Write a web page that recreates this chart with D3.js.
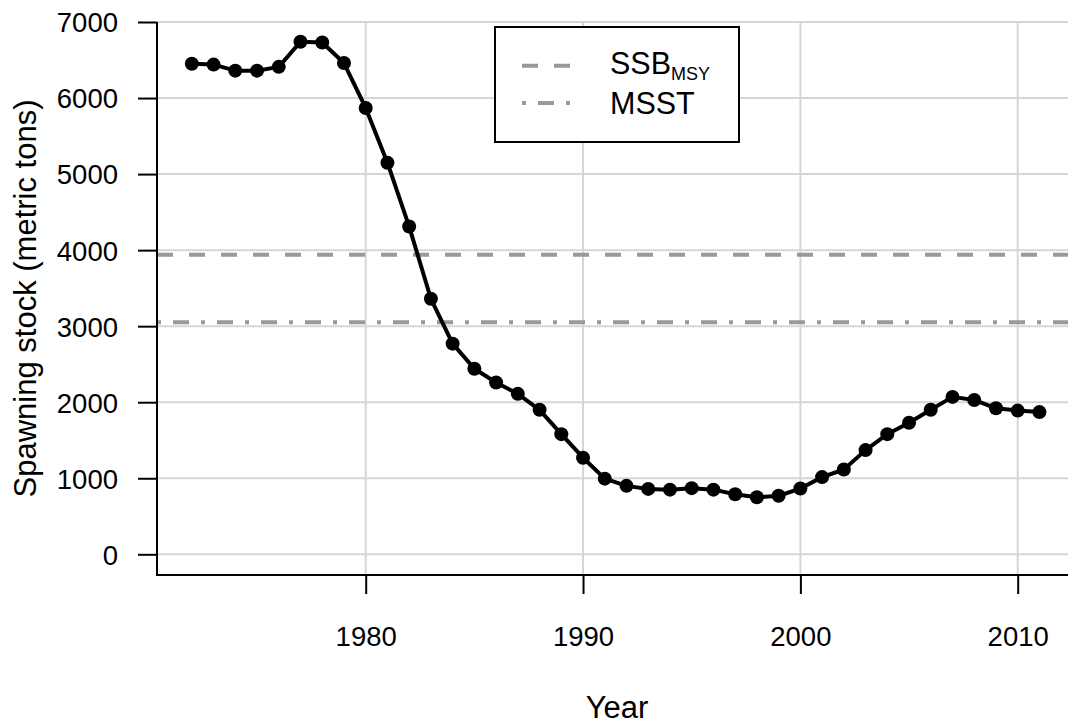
<!DOCTYPE html>
<html>
<head>
<meta charset="utf-8">
<script src="https://cdn.jsdelivr.net/npm/d3@7"></script>
<style>
  html, body { margin: 0; padding: 0; background: #fff; }
  svg { display: block; font-family: "Liberation Sans", Arial, Helvetica, sans-serif; }
</style>
</head>
<body>
<svg id="chart" width="1068" height="725"></svg>
<script>
// ---- data ----
const years = [1972,1973,1974,1975,1976,1977,1978,1979,1980,1981,1982,1983,1984,1985,1986,1987,1988,1989,1990,
               1991,1992,1993,1994,1995,1996,1997,1998,1999,2000,2001,2002,2003,2004,2005,2006,2007,2008,2009,2010,2011];
const ssb = [6450,6440,6360,6360,6410,6740,6730,6460,5870,5150,4310,3360,2770,2440,2260,2110,1900,1580,1270,
             995,900,860,850,870,850,790,750,770,865,1015,1115,1370,1580,1730,1900,2070,2030,1920,1890,1870];
const ssbMsy = 3940;
const msst = 3050;
const yTicks = [0,1000,2000,3000,4000,5000,6000,7000];
const xTicks = [1980,1990,2000,2010];
const legendLabels = ["SSB", "MSST"];

// ---- layout ----
const svg = d3.select("#chart");
const pLeft = 157, pRight = 1068, pTop = 22, pBottom = 575;
const x = d3.scaleLinear().domain([1980, 2010]).range([365.7, 1017.7]);
const y = d3.scaleLinear().domain([0, 7000]).range([554.3, 22]);

// grid
const grid = svg.append("g").attr("stroke", "#d6d6d6").attr("stroke-width", 2);
grid.selectAll("line.h").data(yTicks).join("line").attr("class", "h")
  .attr("x1", pLeft).attr("x2", pRight)
  .attr("y1", d => y(d)).attr("y2", d => y(d));
grid.selectAll("line.v").data(xTicks).join("line").attr("class", "v")
  .attr("x1", d => x(d)).attr("x2", d => x(d))
  .attr("y1", pTop).attr("y2", pBottom);

// reference lines
svg.append("line").attr("x1", pLeft).attr("x2", pRight)
  .attr("y1", y(ssbMsy)).attr("y2", y(ssbMsy))
  .attr("stroke", "#999").attr("stroke-width", 4).attr("stroke-dasharray", "16,16");
svg.append("line").attr("x1", pLeft).attr("x2", pRight)
  .attr("y1", y(msst)).attr("y2", y(msst))
  .attr("stroke", "#999").attr("stroke-width", 4).attr("stroke-dasharray", "4,12,16,12");

// axes
const yAxis = d3.axisLeft(y).tickValues(yTicks).tickSize(19).tickPadding(20).tickFormat(d3.format("d"));
const gy = svg.append("g").attr("transform", `translate(${pLeft},0)`).call(yAxis);
const xAxis = d3.axisBottom(x).tickValues(xTicks).tickSize(19).tickPadding(32).tickFormat(d3.format("d"));
const gx = svg.append("g").attr("transform", `translate(0,${pBottom})`).call(xAxis);
[gy, gx].forEach(g => {
  g.select(".domain").remove();
  g.selectAll(".tick line").attr("stroke", "#000").attr("stroke-width", 2);
  g.selectAll(".tick text").attr("fill", "#000").style("font-size", "27.5px")
    .style("font-family", "'Liberation Sans', Arial, sans-serif");
});
gy.selectAll(".tick text").attr("dy", "0.36em");
gx.selectAll(".tick text").attr("dy", "0.71em");
// L-shaped axis lines
svg.append("path").attr("d", `M${pLeft},${pTop}V${pBottom}H${pRight}`)
  .attr("fill", "none").attr("stroke", "#000").attr("stroke-width", 2);

// axis titles
svg.append("text").attr("x", 617).attr("y", 718)
  .attr("text-anchor", "middle").style("font-size", "31px").text("Year");
svg.append("text").attr("transform", `translate(36,${(pTop + pBottom) / 2}) rotate(-90)`)
  .attr("text-anchor", "middle").style("font-size", "31px").text("Spawning stock (metric tons)");

// data line and points
const line = d3.line().x((d, i) => x(years[i])).y(d => y(d));
svg.append("path").datum(ssb).attr("d", line)
  .attr("fill", "none").attr("stroke", "#000").attr("stroke-width", 4).attr("stroke-linejoin", "round");
svg.selectAll("circle.pt").data(ssb).join("circle").attr("class", "pt")
  .attr("cx", (d, i) => x(years[i])).attr("cy", d => y(d)).attr("r", 7).attr("fill", "#000");

// legend
const lg = svg.append("g");
lg.append("rect").attr("x", 495).attr("y", 27).attr("width", 244).attr("height", 115)
  .attr("fill", "#fff").attr("stroke", "#000").attr("stroke-width", 2);
lg.append("line").attr("x1", 522).attr("x2", 570).attr("y1", 65.7).attr("y2", 65.7)
  .attr("stroke", "#999").attr("stroke-width", 4).attr("stroke-dasharray", "16,16");
lg.append("line").attr("x1", 522).attr("x2", 570).attr("y1", 103).attr("y2", 103)
  .attr("stroke", "#999").attr("stroke-width", 4).attr("stroke-dasharray", "4,12,16,12");
const t1 = lg.append("text").attr("x", 610).attr("y", 73.5).style("font-size", "30.5px");
t1.append("tspan").text(legendLabels[0]);
t1.append("tspan").attr("dy", 6).style("font-size", "18px").text("MSY");
lg.append("text").attr("x", 610).attr("y", 114.3).style("font-size", "30.5px").text(legendLabels[1]);
</script>
</body>
</html>
